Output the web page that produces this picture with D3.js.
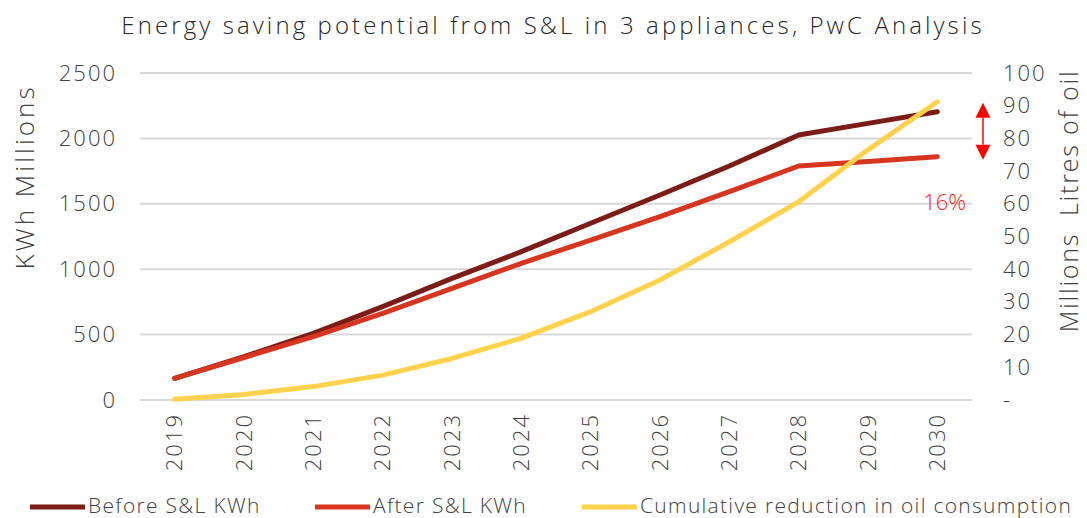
<!DOCTYPE html>
<html lang="en">
<head>
  <meta charset="UTF-8">
  <title>Energy saving potential</title>
  <script src="https://d3js.org/d3.v7.min.js"></script>
  <style>
    body {
      margin: 0;
      background: #fff;
      font-family: "Open Sans", "DejaVu Sans", sans-serif;
      font-weight: 300;
    }
    text {
      fill: #404040;
    }
  </style>
</head>
<body>
  <div id="chart"></div>

  <script>
    const years = ["2019","2020","2021","2022","2023","2024","2025","2026","2027","2028","2029","2030"];
    const beforeKWh = [166, 331, 510, 714, 930, 1134, 1351, 1567, 1789, 2026, 2115, 2204];
    const afterKWh = [166, 325, 485, 663, 854, 1045, 1223, 1402, 1593, 1789, 1823, 1860];
    const oilReduction = [0.2, 1.7, 4.1, 7.6, 12.7, 18.9, 27.0, 36.7, 48.4, 60.6, 76.5, 91.2];
    const leftTicks = [0, 500, 1000, 1500, 2000, 2500];
    const rightTicks = [0, 10, 20, 30, 40, 50, 60, 70, 80, 90, 100];
    const seriesNames = ["Before S&L KWh", "After S&L KWh", "Cumulative reduction in oil consumption"];
    const seriesColors = ["#7b1c17", "#d6361f", "#ffd24d"];

    const W = 1087, H = 518;
    const margin = {top: 73, right: 115, bottom: 118, left: 140};

    const svg = d3.select("#chart")
                  .append("svg")
                  .attr("width", W)
                  .attr("height", H);

    const x = d3.scaleBand()
                .domain(years)
                .range([margin.left, W - margin.right])
                .padding(0);

    const yL = d3.scaleLinear()
                 .domain([0, 2500])
                 .range([H - margin.bottom, margin.top]);

    const yR = d3.scaleLinear()
                 .domain([0, 100])
                 .range([H - margin.bottom, margin.top]);

    const cx = d => x(d) + x.bandwidth() / 2;

    // clear d3's default axis font so the page font is used
    function styleAxis(g) {
      g.attr("font-family", null).attr("font-size", null);
      g.select(".domain").remove();
      g.selectAll("text")
       .attr("fill", null)
       .style("font-size", "22px")
       .style("letter-spacing", "2px");
    }

    // title
    svg.append("text")
       .attr("x", 553)
       .attr("y", 28)
       .attr("text-anchor", "middle")
       .attr("dominant-baseline", "middle")
       .style("font-size", "24px")
       .style("letter-spacing", "3.1px")
       .style("fill", "#262626")
       .text("Energy saving potential from S&L in 3 appliances, PwC Analysis");

    // gridlines
    svg.append("g")
       .selectAll("line")
       .data(leftTicks)
       .enter()
       .append("line")
       .attr("x1", margin.left)
       .attr("x2", W - margin.right)
       .attr("y1", d => yL(d))
       .attr("y2", d => yL(d))
       .attr("stroke", "#d9d9d9")
       .attr("stroke-width", 2);

    // left axis
    svg.append("g")
       .attr("transform", `translate(${margin.left},0)`)
       .call(d3.axisLeft(yL).tickValues(leftTicks).tickSize(0).tickPadding(23).tickFormat(d3.format("d")))
       .call(styleAxis);

    // right axis
    svg.append("g")
       .attr("transform", `translate(${W - margin.right},0)`)
       .call(d3.axisRight(yR).tickValues(rightTicks).tickSize(0).tickPadding(31)
               .tickFormat(d => d === 0 ? "-" : d))
       .call(styleAxis);

    // x axis labels
    svg.append("g")
       .attr("transform", `translate(0,${H - margin.bottom})`)
       .call(d3.axisBottom(x).tickSize(0).tickPadding(0))
       .call(styleAxis)
       .selectAll("text")
       .attr("transform", "rotate(-90)")
       .attr("x", -13)
       .attr("y", 0)
       .attr("dy", "0.35em")
       .style("text-anchor", "end");

    // axis titles
    svg.append("text")
       .attr("transform", `translate(27,177) rotate(-90)`)
       .attr("text-anchor", "middle")
       .attr("dominant-baseline", "middle")
       .style("font-size", "26px")
       .style("letter-spacing", "3px")
       .text("KWh Millions");

    svg.append("text")
       .attr("transform", `translate(1071,201) rotate(-90)`)
       .attr("text-anchor", "middle")
       .attr("dominant-baseline", "middle")
       .style("font-size", "25px")
       .style("letter-spacing", "1.8px")
       .style("white-space", "pre")
       .text("Millions  Litres of oil");

    // lines
    const lineL = d3.line().x((d, i) => cx(years[i])).y(d => yL(d));
    const lineR = d3.line().x((d, i) => cx(years[i])).y(d => yR(d));

    const series = [
      {values: beforeKWh, gen: lineL, color: seriesColors[0]},
      {values: afterKWh, gen: lineL, color: seriesColors[1]},
      {values: oilReduction, gen: lineR, color: seriesColors[2]}
    ];

    svg.selectAll(".series")
       .data(series)
       .enter()
       .append("path")
       .attr("class", "series")
       .attr("d", d => d.gen(d.values))
       .attr("fill", "none")
       .attr("stroke", d => d.color)
       .attr("stroke-width", 5)
       .attr("stroke-linecap", "round")
       .attr("stroke-linejoin", "round");

    // annotation: double arrow + percentage
    const last = years.length - 1;
    const ax = 983;
    const yTop = yL(beforeKWh[last]) - 9;
    const yBot = yL(afterKWh[last]) + 3;
    const head = 15;
    svg.append("line")
       .attr("x1", ax).attr("x2", ax)
       .attr("y1", yTop + head).attr("y2", yBot - head)
       .attr("stroke", "#ff0000")
       .attr("stroke-width", 1.5);
    svg.append("path")
       .attr("d", `M${ax},${yTop} L${ax - 7.5},${yTop + head} L${ax + 7.5},${yTop + head} Z`)
       .attr("fill", "#ff0000");
    svg.append("path")
       .attr("d", `M${ax},${yBot} L${ax - 7.5},${yBot - head} L${ax + 7.5},${yBot - head} Z`)
       .attr("fill", "#ff0000");

    const pct = Math.round((beforeKWh[last] - afterKWh[last]) / beforeKWh[last] * 100);
    svg.append("text")
       .attr("x", 966)
       .attr("y", yL(1500))
       .attr("text-anchor", "end")
       .attr("dominant-baseline", "middle")
       .style("font-size", "22px")
       .style("fill", "#ff2020")
       .text(pct + "%");

    // legend
    const legendPos = [30, 315, 582];
    const legend = svg.append("g")
       .selectAll("g")
       .data(seriesNames)
       .enter()
       .append("g")
       .attr("transform", (d, i) => `translate(${legendPos[i]},507)`);
    legend.append("line")
       .attr("x1", 0).attr("x2", 55)
       .attr("stroke", (d, i) => seriesColors[i])
       .attr("stroke-width", 5);
    legend.append("text")
       .attr("x", 58)
       .attr("dominant-baseline", "middle")
       .style("font-size", "21px")
       .style("letter-spacing", "1.3px")
       .text(d => d);
  </script>
</body>
</html>
